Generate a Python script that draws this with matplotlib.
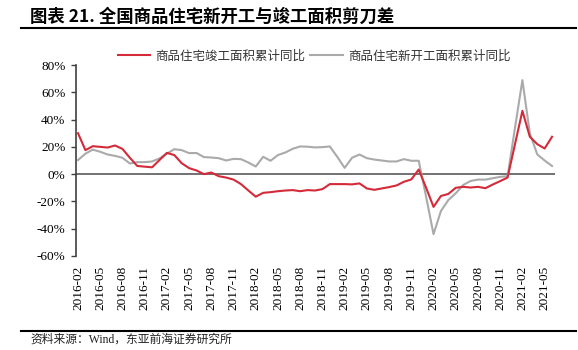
import pandas as pd
import matplotlib
matplotlib.use("Agg")
import matplotlib.pyplot as plt
from matplotlib.lines import Line2D

# monthly, 2016-02 .. 2021-06 (January readings are the line joining Dec and Feb)
months = [p.strftime("%Y-%m") for p in pd.period_range("2016-02", "2021-06", freq="M")]

completed_yoy = [30, 17.6, 20.5, 20, 19.5, 21, 18.5, 12, 6, 5.5, 5, 10.3, 15.6, 14, 8, 4.4,
                 2.7, 0, 1.2, -1.5, -2.5, -4, -7.3, -12, -16.5, -13.7, -13.2, -12.5, -12,
                 -11.7, -12.5, -11.7, -12, -11, -7.3, -7.3, -7.3, -7.5, -6.8, -10.5, -11.5,
                 -10.5, -9.5, -8.3, -5.6, -3.9, 3.4, -10, -24, -16, -14.5, -10, -9.3, -9.8,
                 -9.3, -10.3, -7.6, -5.1, -2.5, 22, 46.4, 27.4, 22, 18.8, 27.4]

started_yoy = [10.3, 15, 18, 16.4, 14.4, 13.4, 12, 7.8, 8.8, 8.8, 9.3, 11.5, 15, 18.3, 17.6,
               15.4, 15.5, 12.5, 12.2, 11.7, 10, 11.2, 11, 8.5, 5.6, 12.7, 9.8, 14, 15.9,
               18.6, 20.3, 20.1, 19.6, 19.8, 20.3, 12.7, 4.6, 12, 14.4, 11.7, 10.7, 10, 9.3,
               9.3, 11, 9.8, 9.8, -16.6, -44, -27, -19, -14, -8, -5, -4, -4, -3, -2, -1.5,
               34, 68.9, 30, 14.5, 10, 6]

series_names = ["商品住宅竣工面积累计同比", "商品住宅新开工面积累计同比"]
y_ticks = [80, 60, 40, 20, 0, -20, -40, -60]

RED = "#D42A3A"
GRAY = "#AAAAAA"
CJK = ["Noto Sans CJK SC", "DejaVu Sans"]
SERIF_CJK = ["Liberation Serif", "Noto Sans CJK SC"]

W, H = 578, 350
fig = plt.figure(figsize=(W / 100, H / 100), dpi=100)

# title and rules
fig.text(30 / W, 1 - 17 / H, "图表 21. 全国商品住宅新开工与竣工面积剪刀差",
         family=CJK, fontsize=12.5, fontweight="bold", va="center", ha="left")
fig.add_artist(Line2D([21 / W, 576 / W], [1 - 28 / H] * 2, color="black", lw=1.5))
fig.add_artist(Line2D([21 / W, 576 / W], [1 - 331 / H] * 2, color="black", lw=1.5))
fig.text(30 / W, 1 - 340 / H, "资料来源：Wind，东亚前海证券研究所",
         family=SERIF_CJK, fontsize=8.5, va="center", ha="left", color="#222222")

ax = fig.add_axes([76 / W, 1 - 256 / H, (555 - 76) / W, (256 - 65) / H])
x = list(range(len(months)))
ax.plot(x, completed_yoy, color=RED, lw=1.5, label=series_names[0], zorder=3)
ax.plot(x, started_yoy, color=GRAY, lw=1.5, label=series_names[1], zorder=2)
ax.axhline(0, color="#595959", lw=1.2, zorder=1)

ax.set_ylim(-60, 80)
ax.set_xlim(-0.27, 64.4)
ax.set_yticks(y_ticks)
ax.set_yticklabels([f"{v}%" for v in y_ticks], family="Liberation Serif", fontsize=9.5)
ax.set_xticks(x[::3])
ax.set_xticklabels(months[::3], rotation=90, family="Liberation Serif", fontsize=9.5)
ax.tick_params(axis="x", length=0, pad=7)
ax.tick_params(axis="y", length=3.5, width=1, color="#404040", pad=4)

for side in ["top", "right", "bottom"]:
    ax.spines[side].set_visible(False)
ax.spines["left"].set_color("#404040")
ax.spines["left"].set_linewidth(1.2)

fig.legend(loc="center", bbox_to_anchor=(314 / W, 1 - 56 / H), ncol=2, frameon=False,
           prop={"family": CJK, "size": 9}, handlelength=2.6, columnspacing=0.4,
           handletextpad=0.4, labelcolor="#333333")

fig.savefig("out.png", dpi=100)
